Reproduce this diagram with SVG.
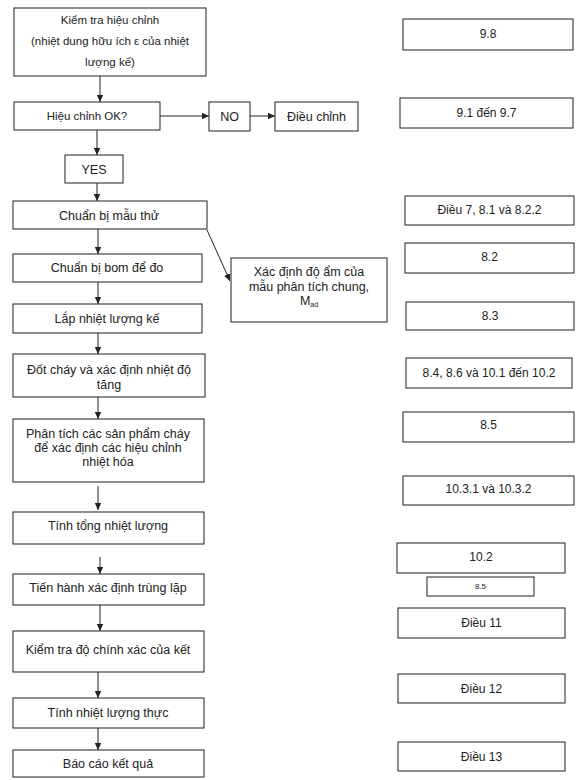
<svg xmlns="http://www.w3.org/2000/svg" width="576" height="780" viewBox="0 0 576 780">
<defs>
<marker id="ah" markerWidth="8" markerHeight="8" refX="7" refY="4" orient="auto" markerUnits="userSpaceOnUse">
<path d="M0,0.8 L7,4 L0,7.2 Z" fill="#222"/>
</marker>
<style>
.b{fill:#fff;stroke:#333;stroke-width:1.1}
.t{font-family:"Liberation Sans",Arial,sans-serif;font-size:12.5px;fill:#222;text-anchor:middle}
.h{font-size:11.5px}
.r{font-size:12px}
.s{font-size:7px}
.c{stroke:#222;stroke-width:1;fill:none;marker-end:url(#ah)}
</style>
</defs>
<rect width="576" height="780" fill="#fff"/>
<g id="connectors">
<line class="c" x1="100" y1="76" x2="100" y2="102"/>
<line class="c" x1="160" y1="116" x2="209" y2="116"/>
<line class="c" x1="250" y1="116" x2="275" y2="116"/>
<line class="c" x1="97" y1="130" x2="97" y2="155"/>
<line class="c" x1="97" y1="183" x2="97" y2="201"/>
<line class="c" x1="207" y1="230" x2="230" y2="281"/>
<line class="c" x1="98" y1="229" x2="98" y2="254"/>
<line class="c" x1="98" y1="282" x2="98" y2="304"/>
<line class="c" x1="98" y1="333" x2="98" y2="354"/>
<line class="c" x1="98" y1="397" x2="98" y2="419"/>
<line class="c" x1="98" y1="486" x2="98" y2="510"/>
<line class="c" x1="100" y1="557" x2="100" y2="574"/>
<line class="c" x1="100" y1="605" x2="100" y2="631"/>
<line class="c" x1="98" y1="672" x2="98" y2="698"/>
<line class="c" x1="98" y1="728" x2="98" y2="750"/>
</g>
<g id="n1"><rect class="b" x="14" y="8" width="192" height="68"/>
<text class="t h" x="110" y="24">Kiểm tra hiệu chỉnh</text>
<text class="t h" x="110" y="45">(nhiệt dung hữu ích ε của nhiệt</text>
<text class="t h" x="110" y="66">lượng kế)</text></g>
<g id="n2"><rect class="b" x="14" y="102" width="146" height="28"/><text class="t h" x="87" y="120">Hiệu chỉnh OK?</text></g>
<g id="no"><rect class="b" x="209" y="102" width="41" height="29"/><text class="t" x="229.5" y="121">NO</text></g>
<g id="dc"><rect class="b" x="275" y="102" width="83" height="29"/><text class="t" x="316.5" y="121">Điều chỉnh</text></g>
<g id="yes"><rect class="b" x="65" y="155" width="58" height="28"/><text class="t" x="94" y="174">YES</text></g>
<g id="n3"><rect class="b" x="13" y="201" width="194" height="28"/><text class="t" x="109" y="220">Chuẩn bị mẫu thử</text></g>
<g id="n4"><rect class="b" x="13" y="254" width="189" height="28"/><text class="t" x="107" y="272">Chuẩn bị bom để đo</text></g>
<g id="n5"><rect class="b" x="13" y="304" width="189" height="29"/><text class="t" x="107" y="323">Lắp nhiệt lượng kế</text></g>
<g id="n6"><rect class="b" x="13" y="354" width="192" height="43"/>
<text class="t" x="109" y="374">Đốt cháy và xác định nhiệt độ</text>
<text class="t" x="109" y="389">tăng</text></g>
<g id="n7"><rect class="b" x="13" y="419" width="191" height="63"/>
<text class="t" x="108" y="438">Phân tích các sản phẩm cháy</text>
<text class="t" x="108" y="452">để xác định các hiệu chỉnh</text>
<text class="t" x="108" y="466">nhiệt hóa</text></g>
<g id="n8"><rect class="b" x="13" y="512" width="191" height="32"/><text class="t" x="108" y="530">Tính tổng nhiệt lượng</text></g>
<g id="n9"><rect class="b" x="13" y="574" width="191" height="31"/><text class="t" x="108" y="592">Tiến hành xác định trùng lặp</text></g>
<g id="n10"><rect class="b" x="13" y="631" width="191" height="41"/><text class="t" x="108" y="654">Kiểm tra độ chính xác của kết</text></g>
<g id="n11"><rect class="b" x="13" y="698" width="191" height="30"/><text class="t" x="108" y="717">Tính nhiệt lượng thực</text></g>
<g id="n12"><rect class="b" x="13" y="750" width="191" height="27"/><text class="t" x="108" y="768">Báo cáo kết quả</text></g>
<g id="mad"><rect class="b" x="231" y="258" width="156" height="64"/>
<text class="t" x="309" y="276">Xác định độ ẩm của</text>
<text class="t" x="309" y="291">mẫu phân tích chung,</text>
<text class="t" x="309" y="305">M<tspan class="s" dy="2">ad</tspan></text></g>
<g id="r1"><rect class="b" x="403" y="19" width="170" height="31"/><text class="t r" x="488" y="38">9.8</text></g>
<g id="r2"><rect class="b" x="400" y="98" width="173" height="30"/><text class="t r" x="486.5" y="117">9.1 đến 9.7</text></g>
<g id="r3"><rect class="b" x="405" y="196" width="169" height="29"/><text class="t r" x="489.5" y="214">Điều 7, 8.1 và 8.2.2</text></g>
<g id="r4"><rect class="b" x="405" y="243" width="169" height="30"/><text class="t r" x="489.5" y="261">8.2</text></g>
<g id="r5"><rect class="b" x="406" y="302" width="168" height="28"/><text class="t r" x="490" y="320">8.3</text></g>
<g id="r6"><rect class="b" x="406" y="358" width="166" height="30"/><text class="t r" x="489" y="377">8.4, 8.6 và 10.1 đến 10.2</text></g>
<g id="r7"><rect class="b" x="403" y="412" width="171" height="30"/><text class="t r" x="488.5" y="429">8.5</text></g>
<g id="r8"><rect class="b" x="403" y="476" width="171" height="29"/><text class="t r" x="488.5" y="493">10.3.1 và 10.3.2</text></g>
<g id="r9"><rect class="b" x="397" y="543" width="168" height="30"/><text class="t r" x="481" y="561">10.2</text></g>
<g id="r10"><rect class="b" x="427" y="577" width="107" height="19"/><text class="t" x="480.5" y="589" style="font-size:8px">8.5</text></g>
<g id="r11"><rect class="b" x="398" y="608" width="167" height="30"/><text class="t r" x="481.5" y="627">Điều 11</text></g>
<g id="r12"><rect class="b" x="398" y="674" width="167" height="29"/><text class="t r" x="481.5" y="693">Điều 12</text></g>
<g id="r13"><rect class="b" x="398" y="742" width="167" height="29"/><text class="t r" x="481.5" y="761">Điều 13</text></g>
</svg>
